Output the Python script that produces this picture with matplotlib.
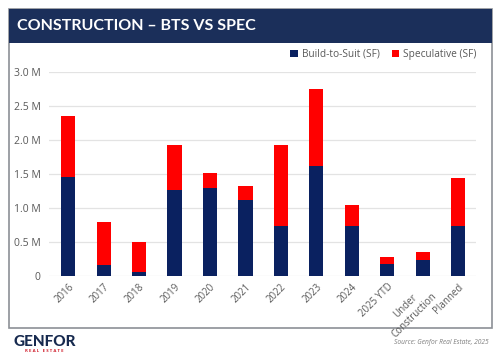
import matplotlib
matplotlib.use("Agg")
import matplotlib.pyplot as plt
from matplotlib.patches import Rectangle
from matplotlib.ticker import FuncFormatter
import numpy as np

categories = ["2016", "2017", "2018", "2019", "2020", "2021", "2022", "2023",
              "2024", "2025 YTD", "Under\nConstruction", "Planned"]
bts = [1.45, 0.16, 0.06, 1.26, 1.30, 1.12, 0.73, 1.62, 0.73, 0.18, 0.24, 0.73]
total = [2.36, 0.80, 0.50, 1.92, 1.52, 1.33, 1.92, 2.75, 1.05, 0.28, 0.35, 1.44]
spec = [round(t - b, 3) for t, b in zip(total, bts)]
yticks = [0, 0.5, 1.0, 1.5, 2.0, 2.5, 3.0]

NAVY = "#0a2160"
RED = "#ff0000"
HEADER = "#1b2f5a"
GRAY = "#595959"

plt.rcParams['font.family'] = ['Open Sans', 'DejaVu Sans']

W, H = 502, 357
fig = plt.figure(figsize=(W / 100, H / 100), dpi=100)
fig.patch.set_facecolor("white")

def fx(px):
    return px / W

def fy(py):
    return 1 - py / H

# panel border and header
fig.patches.append(Rectangle((fx(9), fy(328)), fx(492) - fx(9), fy(9) - fy(328),
                             transform=fig.transFigure, facecolor="white",
                             edgecolor="#8c9096", linewidth=1.2, zorder=0))
fig.patches.append(Rectangle((fx(9), fy(43)), fx(492) - fx(9), fy(9) - fy(43),
                             transform=fig.transFigure, facecolor=HEADER,
                             edgecolor="none", zorder=1))
fig.text(fx(17), fy(26), "CONSTRUCTION \u2013 BTS VS SPEC", color="white",
         fontsize=11.5, fontweight="bold", va="center", ha="left",
         family=['Lato', 'DejaVu Sans'])

ax = fig.add_axes([fx(49), fy(276), fx(476) - fx(49), fy(72) - fy(276)])
ax.set_zorder(3)
ax.patch.set_visible(False)
x = np.arange(len(categories))
ax.bar(x, bts, width=0.4, color=NAVY, label="Build-to-Suit (SF)", zorder=3)
ax.bar(x, spec, width=0.4, bottom=bts, color=RED, label="Speculative (SF)", zorder=3)

ax.set_xlim(-0.54, 11.5)
ax.set_ylim(0, 3.0)
ax.set_yticks(yticks)
ax.yaxis.set_major_formatter(FuncFormatter(lambda v, p: "0" if v == 0 else f"{v:.1f} M"))
ax.grid(axis="y", color="#e3e3e3", linewidth=0.9, zorder=0)
for s in ax.spines.values():
    s.set_visible(False)
ax.tick_params(axis="both", length=0, colors=GRAY, labelsize=7.5)
ax.tick_params(axis="y", pad=6)
ax.tick_params(axis="x", pad=4)
ax.set_xticks(x)
ax.set_xticklabels(categories, rotation=45, ha="right", rotation_mode="anchor",
                   fontsize=7, color=GRAY, multialignment="center")

leg = ax.legend(loc="lower right", bbox_to_anchor=(1.01, 1.04), ncol=2, frameon=False,
                fontsize=7.3, handlelength=0.7, handleheight=0.7, handletextpad=0.4,
                columnspacing=1.2, borderaxespad=0)
for t in leg.get_texts():
    t.set_color(GRAY)

# footer
fig.text(fx(13), fy(342), "GENFOR", color="#172a4f", fontsize=11, fontweight="black",
         va="center", ha="left", family=['Lato', 'DejaVu Sans'])
fig.text(fx(44), fy(351.5), "R E A L   E S T A T E", color="#d0202e", fontsize=3.2,
         fontweight="bold", va="center", ha="center")
fig.text(fx(489), fy(342), "Source: Genfor Real Estate, 2025", color="#7f7f7f",
         fontsize=4.8, style="italic", va="center", ha="right")

fig.savefig("out.png", dpi=100, facecolor="white")
